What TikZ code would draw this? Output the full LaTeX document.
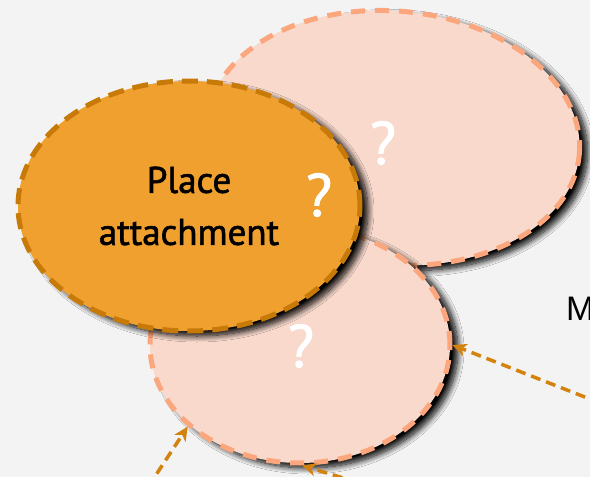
\documentclass[tikz,border=0pt]{standalone}
\usepackage{fontspec}
\setmainfont[FakeBold=1.6]{PT Sans}
\newfontfamily\mfont{Liberation Sans}
\usetikzlibrary{shapes.geometric,arrows.meta,shadows.blur}
\definecolor{bgc}{HTML}{F3F3F3}
\definecolor{pinkfill}{HTML}{F8D9CC}
\definecolor{pinkline}{HTML}{FBA67C}
\definecolor{orfill}{HTML}{F0A02E}
\definecolor{orline}{HTML}{C77A08}
\definecolor{arrc}{HTML}{D4820E}
\tikzset{
  shad/.style={blur shadow={shadow xshift=8pt, shadow yshift=-5pt, shadow blur radius=6pt, shadow blur steps=12, shadow opacity=100}},
  pinkell/.style={ellipse, shad, fill=pinkfill, draw=pinkline, line width=5pt, dash pattern=on 14pt off 10pt, inner sep=0pt},
  orell/.style={ellipse, shad, fill=orfill, draw=orline, line width=5pt, dash pattern=on 16pt off 9pt, inner sep=0pt, align=center, font=\fontsize{37}{52}\selectfont},
  qmark/.style={text=white, font=\fontsize{60}{60}\selectfont, inner sep=0pt},
  arr/.style={draw=arrc, line width=3.5pt, dash pattern=on 10pt off 6pt, -{Stealth[length=14pt,width=13pt,inset=4pt]}}
}
\begin{document}
\begin{tikzpicture}[x=1pt,y=-1pt]
\useasboundingbox (0,0) rectangle (590,477);
\fill[bgc] (0,0) rectangle (590,477);
\node[pinkell, minimum width=374pt, minimum height=254pt, rotate=-5] (tr) at (393,138) {};
\node[pinkell, minimum width=300pt, minimum height=236pt] (bot) at (300,345) {};
\node[orell, minimum width=342pt, minimum height=250pt] (pa) at (189,206) {Place\\attachment};
\node[qmark] (q1) at (383,143) {?};
\node[qmark] (q2) at (319,195) {?};
\node[qmark] (q3) at (301,346) {?};
\node[anchor=base west, inner sep=0pt, font=\mfont\fontsize{34}{40}\selectfont] (m) at (566,320) {M};
\coordinate (s1) at (600,403);
\coordinate (s2) at (148,487);
\coordinate (s3) at (373,487);
\draw[arr] (s1) -- (bot.east);
\draw[arr] (s2) -- (bot.216.8);
\draw[arr] (s3) -- (bot.271.5);
\end{tikzpicture}
\end{document}
